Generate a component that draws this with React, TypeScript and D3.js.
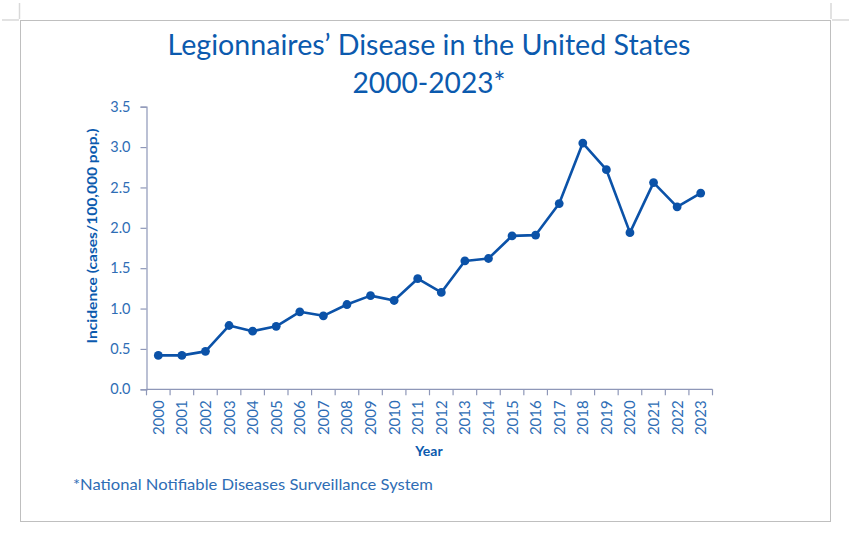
import React, { useEffect, useRef } from "react";
import * as d3 from "d3";

const years: string[] = [
  "2000", "2001", "2002", "2003", "2004", "2005", "2006", "2007", "2008", "2009", "2010", "2011",
  "2012", "2013", "2014", "2015", "2016", "2017", "2018", "2019", "2020", "2021", "2022", "2023",
];
const incidence: number[] = [
  0.42, 0.42, 0.47, 0.79, 0.72, 0.78, 0.96, 0.91, 1.05, 1.16, 1.1, 1.37,
  1.2, 1.59, 1.62, 1.9, 1.91, 2.3, 3.05, 2.72, 1.94, 2.56, 2.26, 2.43,
];
const yTicks: number[] = [0, 0.5, 1, 1.5, 2, 2.5, 3, 3.5];
const titleLines: string[] = ["Legionnaires\u2019 Disease in the United States", "2000-2023*"];
const yLabel = "Incidence (cases/100,000 pop.)";
const xLabel = "Year";
const footnote = "*National Notifiable Diseases Surveillance System";

const W = 851;
const H = 541;
const FONT = "Lato, 'Open Sans', sans-serif";
const LINE = "#0B52A8";
const TEXT = "#0B5AAE";
const TICKTXT = "#2E6DB5";
const AXIS = "#8E97B8";

export default function App() {
  const ref = useRef<SVGSVGElement | null>(null);

  useEffect(() => {
    const svg = d3.select(ref.current);
    svg.selectAll("*").remove();

    const left = 146.5;
    const right = 712.5;
    const top = 106.7;
    const bottom = 389.3;

    // frame and corner marks
    svg.append("rect").attr("x", 20.5).attr("y", 20.5).attr("width", 810).attr("height", 501)
      .attr("fill", "none").attr("stroke", "#BFBFBF").attr("stroke-width", 1);
    const marks: [number, number, number, number][] = [
      [19.5, 3, 19.5, 19], [2, 20, 19, 20], [831, 3, 831, 19], [832, 20, 849, 20],
    ];
    marks.forEach(([x1, y1, x2, y2]) => {
      svg.append("line").attr("x1", x1).attr("y1", y1).attr("x2", x2).attr("y2", y2)
        .attr("stroke", "#D9D9D9").attr("stroke-width", 1.5);
    });

    // titles
    const titleBase = [55, 93];
    const titleLen = [523, 153];
    titleLines.forEach((t, i) => {
      svg.append("text").attr("x", 429).attr("y", titleBase[i]).attr("text-anchor", "middle")
        .attr("font-family", FONT).attr("font-size", 28).attr("fill", TEXT)
        .attr("textLength", titleLen[i]).attr("lengthAdjust", "spacingAndGlyphs").text(t);
    });

    const x = d3.scaleBand<string>().domain(years).range([left, right]);
    const y = d3.scaleLinear().domain([0, 3.5]).range([bottom, top]);

    // y axis
    const gy = svg.append("g").attr("transform", `translate(${left},0)`);
    gy.call(d3.axisLeft(y).tickValues(yTicks).tickFormat(d3.format(".1f")).tickSize(6).tickPadding(10) as any);
    gy.select(".domain").attr("stroke", AXIS).attr("stroke-width", 1.2);
    gy.selectAll(".tick line").attr("stroke", AXIS).attr("stroke-width", 1.2);
    gy.selectAll(".tick text").attr("font-family", FONT).attr("font-size", 14.5).attr("fill", TICKTXT);

    // x axis
    const gx = svg.append("g").attr("transform", `translate(0,${bottom})`);
    gx.append("line").attr("x1", left).attr("x2", right).attr("y1", 0).attr("y2", 0)
      .attr("stroke", AXIS).attr("stroke-width", 1.2);
    const bounds = [...years.map((yr) => x(yr) as number), right];
    bounds.forEach((b) => {
      gx.append("line").attr("x1", b).attr("x2", b).attr("y1", 0).attr("y2", 6)
        .attr("stroke", AXIS).attr("stroke-width", 1.2);
    });
    years.forEach((yr) => {
      const cx = (x(yr) as number) + x.bandwidth() / 2;
      gx.append("text").attr("transform", `translate(${cx + 5.5},${11}) rotate(-90)`)
        .attr("text-anchor", "end").attr("font-family", FONT).attr("font-size", 15)
        .attr("fill", TICKTXT).text(yr);
    });

    // axis titles
    svg.append("text").attr("transform", `translate(97,236) rotate(-90)`).attr("text-anchor", "middle")
      .attr("font-family", FONT).attr("font-size", 13.5).attr("font-weight", "bold").attr("fill", TEXT)
      .attr("textLength", 215).attr("lengthAdjust", "spacingAndGlyphs").text(yLabel);
    svg.append("text").attr("x", 429).attr("y", 456).attr("text-anchor", "middle")
      .attr("font-family", FONT).attr("font-size", 14).attr("font-weight", "bold").attr("fill", TEXT)
      .text(xLabel);

    // line + markers
    const pts = years.map((yr, i) => [(x(yr) as number) + x.bandwidth() / 2, y(incidence[i])] as [number, number]);
    svg.append("path").attr("d", d3.line()(pts) as string).attr("fill", "none")
      .attr("stroke", LINE).attr("stroke-width", 2.6).attr("stroke-linejoin", "round");
    svg.selectAll("circle.pt").data(pts).enter().append("circle").attr("class", "pt")
      .attr("cx", (d) => d[0]).attr("cy", (d) => d[1]).attr("r", 4.4).attr("fill", LINE);

    // footnote
    svg.append("text").attr("x", 73).attr("y", 490).attr("font-family", FONT).attr("font-size", 16)
      .attr("fill", TICKTXT).attr("textLength", 360).attr("lengthAdjust", "spacingAndGlyphs").text(footnote);
  }, []);

  return (
    <div style={{ position: "absolute", left: 0, top: 0 }}>
      <svg ref={ref} width={W} height={H} style={{ display: "block", background: "#fff" }} />
    </div>
  );
}
